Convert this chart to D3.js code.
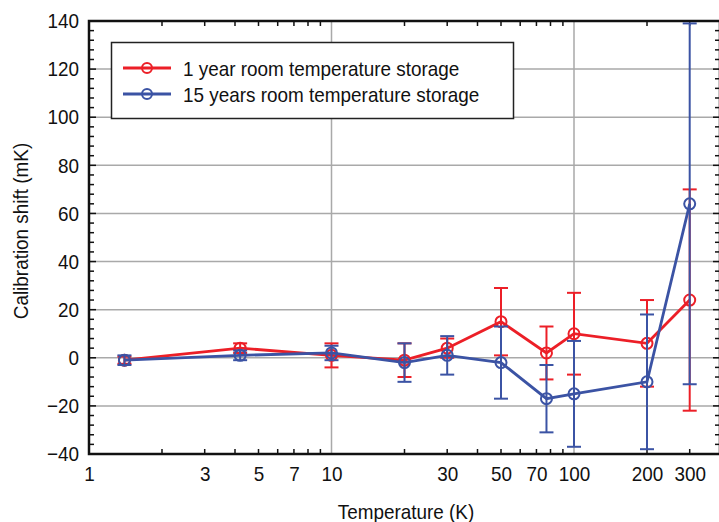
<!DOCTYPE html>
<html>
<head>
<meta charset="utf-8">
<script src="https://cdn.jsdelivr.net/npm/d3@7/dist/d3.min.js"></script>
<style>
  html, body { margin: 0; padding: 0; background: #fff; }
  svg { display: block; }
  text { font-family: "Liberation Sans", Arial, Helvetica, sans-serif; fill: #111; }
</style>
</head>
<body>
<svg id="chart" width="719" height="522"></svg>
<script>
// Storage temperatures (K) at which calibration shift was measured
const temperatures = [1.4, 4.2, 10, 20, 30, 50, 77, 100, 200, 300];

// Series: calibration shift (mK) and its uncertainty (mK)
const oneYearShift = [-1, 4, 1, -1, 4, 15, 2, 10, 6, 24];
const oneYearErr   = [1.5, 2, 5, 7, 4, 14, 11, 17, 18, 46];
const fifteenYearShift = [-1, 1, 2, -2, 1, -2, -17, -15, -10, 64];
const fifteenYearErr   = [2, 2, 3, 8, 8, 15, 14, 22, 28, 75];

const seriesNames = ["1 year room temperature storage", "15 years room temperature storage"];
const xTickValues = [1, 3, 5, 7, 10, 30, 50, 70, 100, 200, 300];
const yTickValues = [-40, -20, 0, 20, 40, 60, 80, 100, 120, 140];

const RED = "#ec1f27";
const BLUE = "#3b53a4";

const svg = d3.select("#chart");
const pL = 89, pR = 720, pT = 21, pB = 454;

const x = d3.scaleLog().domain([1, 400]).range([pL, pR]);
const y = d3.scaleLinear().domain([-40, 140]).range([pB, pT]);

// Grid lines
const grid = svg.append("g");
grid.selectAll("line.h").data(yTickValues.filter(v => v > -40 && v < 140)).join("line")
  .attr("x1", pL).attr("x2", pR)
  .attr("y1", d => y(d)).attr("y2", d => y(d))
  .attr("stroke", "#a9a9a9").attr("stroke-width", 1.5);
grid.selectAll("line.v").data([10, 100]).join("line")
  .attr("x1", d => x(d)).attr("x2", d => x(d))
  .attr("y1", pT).attr("y2", pB)
  .attr("stroke", "#a9a9a9").attr("stroke-width", 1.5);

// Minor tick positions
const xMinor = [];
[1, 10, 100].forEach(dec => { for (let k = 2; k <= 9; k++) if (dec * k <= 400) xMinor.push(dec * k); });
const yMinor = d3.range(-40, 141, 4);

// Bottom axis labels
const xAxisB = d3.axisBottom(x).tickValues(xTickValues).tickFormat(d3.format("d")).tickSize(0).tickPadding(12);
const gxb = svg.append("g").attr("transform", `translate(0,${pB})`).call(xAxisB);
gxb.select(".domain").remove();

const ticks = svg.append("g").attr("stroke", "#111");
// x minor ticks (bottom and top, pointing inward)
ticks.selectAll("line.xb").data(xMinor).join("line")
  .attr("x1", d => x(d)).attr("x2", d => x(d))
  .attr("y1", pB).attr("y2", pB - 5).attr("stroke-width", 1.5);
ticks.selectAll("line.xt").data(xMinor).join("line")
  .attr("x1", d => x(d)).attr("x2", d => x(d))
  .attr("y1", pT).attr("y2", pT + 5).attr("stroke-width", 1.5);
// y minor ticks (left and right)
ticks.selectAll("line.yl").data(yMinor).join("line")
  .attr("x1", pL).attr("x2", d => pL + (d % 20 === 0 ? 7 : 5))
  .attr("y1", d => y(d)).attr("y2", d => y(d)).attr("stroke-width", 1.5);
ticks.selectAll("line.yr").data(yMinor).join("line")
  .attr("x1", pR).attr("x2", d => pR - (d % 20 === 0 ? 7 : 5))
  .attr("y1", d => y(d)).attr("y2", d => y(d)).attr("stroke-width", 1.5);

// Left axis labels
const yAxisL = d3.axisLeft(y).tickValues(yTickValues).tickSize(0).tickPadding(10);
const gyl = svg.append("g").attr("transform", `translate(${pL},0)`).call(yAxisL);
gyl.select(".domain").remove();
svg.selectAll(".tick").attr("font-family", null).attr("font-size", null);
svg.selectAll(".tick text").attr("font-size", 21).attr("fill", "#111");

// Frame
svg.append("rect").attr("x", pL).attr("y", pT)
  .attr("width", pR - pL).attr("height", pB - pT)
  .attr("fill", "none").attr("stroke", "#111").attr("stroke-width", 2.5);

// Axis titles
svg.append("text").attr("x", 406).attr("y", 519)
  .attr("text-anchor", "middle").attr("font-size", 21).text("Temperature (K)");
svg.append("text").attr("transform", "translate(28,231) rotate(-90)")
  .attr("text-anchor", "middle").attr("font-size", 21).text("Calibration shift (mK)");

// Data series
function drawSeries(vals, errs, color) {
  const pts = temperatures.map((t, i) => ({ t, v: vals[i], e: errs[i] }));
  const g = svg.append("g");
  const eb = g.append("g").attr("stroke", color).attr("stroke-width", 2);
  eb.selectAll("line.stem").data(pts).join("line")
    .attr("x1", d => x(d.t)).attr("x2", d => x(d.t))
    .attr("y1", d => y(d.v + d.e)).attr("y2", d => y(d.v - d.e));
  eb.selectAll("line.capT").data(pts).join("line")
    .attr("x1", d => x(d.t) - 7).attr("x2", d => x(d.t) + 7)
    .attr("y1", d => y(d.v + d.e)).attr("y2", d => y(d.v + d.e));
  eb.selectAll("line.capB").data(pts).join("line")
    .attr("x1", d => x(d.t) - 7).attr("x2", d => x(d.t) + 7)
    .attr("y1", d => y(d.v - d.e)).attr("y2", d => y(d.v - d.e));
  g.append("path").datum(pts)
    .attr("d", d3.line().x(d => x(d.t)).y(d => y(d.v)))
    .attr("fill", "none").attr("stroke", color).attr("stroke-width", 2.8);
  g.selectAll("circle").data(pts).join("circle")
    .attr("cx", d => x(d.t)).attr("cy", d => y(d.v)).attr("r", 5.5)
    .attr("fill", "none").attr("stroke", color).attr("stroke-width", 2);
}
drawSeries(oneYearShift, oneYearErr, RED);
drawSeries(fifteenYearShift, fifteenYearErr, BLUE);

// Legend
const lg = svg.append("g");
lg.append("rect").attr("x", 111.5).attr("y", 42.5).attr("width", 402).attr("height", 76)
  .attr("fill", "#fff").attr("stroke", "#222").attr("stroke-width", 1.5);
[[RED, 68], [BLUE, 94]].forEach(([c, yy], i) => {
  lg.append("line").attr("x1", 123).attr("x2", 171).attr("y1", yy).attr("y2", yy)
    .attr("stroke", c).attr("stroke-width", 2.8);
  lg.append("circle").attr("cx", 147).attr("cy", yy).attr("r", 5)
    .attr("fill", "none").attr("stroke", c).attr("stroke-width", 2);
  lg.append("text").attr("x", 183).attr("y", yy + 7.5).attr("font-size", 21).text(seriesNames[i]);
});

// Condensed lettering: squeeze every label horizontally
svg.selectAll("text").each(function () {
  const w = this.getComputedTextLength();
  d3.select(this).attr("textLength", (w * 0.9).toFixed(1)).attr("lengthAdjust", "spacingAndGlyphs");
});
</script>
</body>
</html>
